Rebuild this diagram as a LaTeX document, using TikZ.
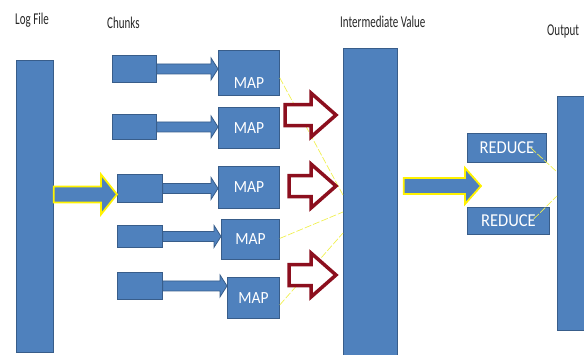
\documentclass[tikz,border=0pt]{standalone}
\usepackage{fontspec}
\setmainfont{Carlito}
\usetikzlibrary{calc}

% block arrow from #2 to #3: shaft half height #4, head half height #5, head length #6
\newcommand{\blockarrow}[6][]{%
  \path[#1] let \p1=(#2), \p2=(#3) in
    (\x1,\y1+#4pt) -- (\x2-#6pt,\y1+#4pt) -- (\x2-#6pt,\y1+#5pt) -- (\x2,\y1) --
    (\x2-#6pt,\y1-#5pt) -- (\x2-#6pt,\y1-#4pt) -- (\x1,\y1-#4pt) -- cycle;}

\definecolor{boxblue}{HTML}{4F81BD}
\definecolor{boxline}{HTML}{385D8A}
\definecolor{darkred}{HTML}{8C0F1E}
\definecolor{linkyellow}{HTML}{F0F050}

\tikzset{
  bar/.style={draw=boxline, fill=boxblue, line width=0.8pt, anchor=north west, inner sep=0pt},
  mapbox/.style={bar, text=white, font=\fontsize{15.5}{18}\selectfont},
  redbox/.style={bar, text=white, font=\fontsize{16.5}{19}\selectfont},
  flow/.style={draw=boxline, fill=boxblue, line width=0.8pt},
  yflow/.style={draw=yellow, fill=boxblue, line width=1.8pt, line join=miter},
  hollow/.style={draw=darkred, fill=white, line width=3.5pt, line join=miter},
  link/.style={draw=linkyellow, line width=0.7pt, dash pattern=on 7pt off 2pt},
  title/.style={anchor=base west, inner sep=0pt, text=black!85, font=\fontsize{11}{13}\selectfont}
}

\begin{document}
\begin{tikzpicture}[x=1pt, y=-1pt]
  \useasboundingbox (0,0) rectangle (584,354);

  % Titles
  \node[title] (tlog) at (15,24) {\scalebox{1}[1.5]{Log File}};
  \node[title] (tchk) at (107,28) {\scalebox{1}[1.5]{Chunks}};
  \node[title] (tint) at (340,27) {\scalebox{1}[1.5]{Intermediate Value}};
  \node[title] (tout) at (547,35) {\scalebox{1}[1.5]{Output}};

  % Tall bars
  \node[bar, minimum width=37pt, minimum height=292pt] (lf) at (16,60) {};
  \node[bar, minimum width=54pt, minimum height=320pt] (iv) at (343,48) {};
  \node[bar, minimum width=35pt, minimum height=234pt] (out) at (557,96) {};

  % Reduce boxes
  \node[redbox, minimum width=79pt, minimum height=29pt] (r1) at (467,133) {\scalebox{1}[1.1]{REDUCE}};
  \node[redbox, minimum width=82pt, minimum height=27pt] (r2) at (467,207) {\scalebox{1}[1.1]{REDUCE}};

  % Chunks, maps and the arrows between them
  \foreach \i/\cx/\cy/\cw/\ch/\mx/\my/\mw/\mh/\off in
    {1/112/55/44/27/218/50/61/45/10,
     2/112/114/44/25/218/107/61/41/0,
     3/117/174/45/28/218/166/61/42/0,
     4/117/225/45/22/221/219/58/40/0,
     5/117/272/45/27/227/277/52/41/0} {
    \node[bar, minimum width=\cw pt, minimum height=\ch pt] (c\i) at (\cx,\cy) {};
    \node[mapbox, minimum width=\mw pt, minimum height=\mh pt] (m\i) at (\mx,\my)
      {\raisebox{-\off pt}[\height][0pt]{\scalebox{1}[1.1]{MAP}}};
    \blockarrow[flow]{c\i.east}{m\i.west |- c\i.east}{5}{11}{7}
  }

  % Faint links
  \draw[link] ($(m1.east)+(0,5)$) -- (iv.west |- 0,195);
  \draw[link] ($(m4.east)+(0,-1)$) -- (iv.west |- 0,212);
  \draw[link] ($(m5.east)+(0,7)$) -- (iv.west |- 0,233);
  \draw[link] ($(r1.east)+(-16,0)$) -- (out.west |- 0,172);
  \draw[link] ($(r2.east)+(-16,-2)$) -- (out.west |- 0,196);

  % Hollow red arrows into the intermediate values
  \coordinate (h1) at (285,115);
  \coordinate (h2) at (289,186);
  \coordinate (h3) at (289,275);
  \foreach \j in {1,2,3}
    \blockarrow[hollow]{h\j}{$(iv.west |- h\j)+(-7,0)$}{10.5}{22}{25};

  % Yellow outlined arrows
  \coordinate (ya) at ($(c3.west)+(0,6)$);
  \blockarrow[yflow]{lf.east |- ya}{ya}{8}{20}{16}
  \coordinate (yb) at (481,186);
  \blockarrow[yflow]{$(iv.east |- yb)+(6,0)$}{yb}{8}{18}{16}
\end{tikzpicture}
\end{document}
